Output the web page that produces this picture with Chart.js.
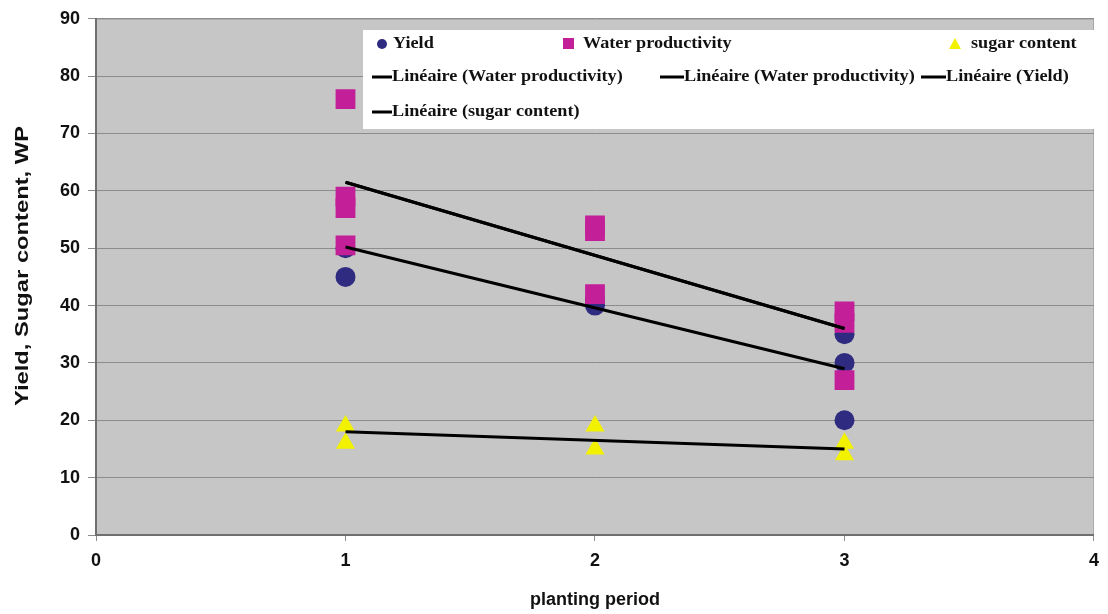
<!DOCTYPE html>
<html>
<head>
<meta charset="utf-8">
<script src="https://cdn.jsdelivr.net/npm/chart.js@4.4.1/dist/chart.umd.min.js"></script>
<style>
    html, body { margin: 0; padding: 0; background: #fff; }
    #wrap { width: 1108px; height: 614px; }
</style>
</head>
<body>
<div id="wrap"><canvas id="chart" width="1108" height="614"></canvas></div>
<script>
// axis ticks
var xTicks = [0, 1, 2, 3, 4];
var yTicks = [0, 10, 20, 30, 40, 50, 60, 70, 80, 90];

// Yield
var yieldX = [1, 1, 2, 2, 3, 3, 3];
var yieldY = [45, 50, 40, 41, 35, 30, 20];
// Water productivity
var wpX = [1, 1, 1, 1, 2, 2, 2, 3, 3, 3];
var wpY = [76, 59, 57, 50.5, 54, 53, 42, 39, 37, 27];
// sugar content
var sugarX = [1, 1, 2, 2, 3, 3];
var sugarY = [19, 16, 19, 15, 16, 14];

// linear trends (period 1 -> period 3)
var trendX = [1, 3];
var trendWP = [61.5, 36];
var trendYield = [50.2, 29];
var trendSugar = [18, 15];

var legendLabels = [
    "Yield", "Water productivity", "sugar content",
    "Linéaire (Water productivity)", "Linéaire (Water productivity)", "Linéaire (Yield)",
    "Linéaire (sugar content)"
];
var yTitle = "Yield, Sugar content, WP";
var xTitle = "planting period";

var cYield = "#2f2b80";
var cWP = "#c21f98";
var cSugar = "#f2f200";

function toPoints(xs, ys) {
    return xs.map(function (x, i) { return { x: x, y: ys[i] }; });
}

function trendSet(label, ys) {
    return {
        type: "line",
        label: label,
        data: toPoints(trendX, ys),
        borderColor: "#000",
        borderWidth: 3,
        pointRadius: 0,
        showLine: true,
        fill: false,
        order: 0
    };
}

// grey plot background + thin frame
var plotBack = {
    id: "plotBack",
    beforeDraw: function (chart) {
        var a = chart.chartArea, ctx = chart.ctx;
        ctx.save();
        ctx.fillStyle = "#c6c6c6";
        ctx.fillRect(a.left, a.top, a.right - a.left, a.bottom - a.top);
        ctx.strokeStyle = "#a9a9a9";
        ctx.lineWidth = 1;
        ctx.strokeRect(a.left + 0.5, a.top + 0.5, a.right - a.left - 1, a.bottom - a.top - 1);
        ctx.restore();
    }
};

// stretched y title like the original
var yTitlePlugin = {
    id: "yTitlePlugin",
    afterDraw: function (chart) {
        var ctx = chart.ctx;
        ctx.save();
        ctx.font = "bold 18px 'Liberation Sans', Arial, sans-serif";
        ctx.fillStyle = "#111";
        ctx.textAlign = "center";
        ctx.textBaseline = "middle";
        var w = ctx.measureText(yTitle).width;
        ctx.translate(23, 266);
        ctx.rotate(-Math.PI / 2);
        ctx.scale(280 / w, 1);
        ctx.fillText(yTitle, 0, 0);
        ctx.restore();
    }
};

// legend box in the style of the original (3 columns)
var boxLegend = {
    id: "boxLegend",
    afterDraw: function (chart) {
        var a = chart.chartArea, ctx = chart.ctx;
        var left = 363, top = 30, right = a.right, bottom = 129;
        ctx.save();
        ctx.fillStyle = "#fff";
        ctx.fillRect(left, top, right - left, bottom - top);

        ctx.font = "bold 17px 'Liberation Serif', 'Times New Roman', serif";
        ctx.textBaseline = "middle";
        function seg(x1, x2, y) {
            ctx.strokeStyle = "#000";
            ctx.lineWidth = 3;
            ctx.beginPath();
            ctx.moveTo(x1, y);
            ctx.lineTo(x2, y);
            ctx.stroke();
        }
        function txt(s, x, y) {
            ctx.save();
            ctx.translate(x, y);
            ctx.scale(1.07, 1);
            ctx.fillStyle = "#111";
            ctx.fillText(s, 0, 0);
            ctx.restore();
        }
        var r1 = 44, r2 = 77, r3 = 112;
        // markers
        ctx.fillStyle = cYield;
        ctx.beginPath();
        ctx.arc(382, r1, 5, 0, Math.PI * 2);
        ctx.fill();
        ctx.fillStyle = cWP;
        ctx.fillRect(563, r1 - 6, 11, 11);
        ctx.fillStyle = cSugar;
        ctx.beginPath();
        ctx.moveTo(955, r1 - 6);
        ctx.lineTo(961, r1 + 5);
        ctx.lineTo(949, r1 + 5);
        ctx.closePath();
        ctx.fill();

        seg(372, 392, r2);
        seg(660, 684, r2);
        seg(921, 946, r2);
        seg(372, 392, r3);

        txt(legendLabels[0], 393, r1);
        txt(legendLabels[1], 583, r1);
        txt(legendLabels[2], 971, r1);
        txt(legendLabels[3], 392, r2);
        txt(legendLabels[4], 684, r2);
        txt(legendLabels[5], 946, r2);
        txt(legendLabels[6], 392, r3);
        ctx.restore();
    }
};

var tickFont = { family: "'Liberation Sans', Arial, sans-serif", size: 18, weight: "bold" };

new Chart(document.getElementById("chart"), {
    type: "scatter",
    data: {
        datasets: [
            trendSet(legendLabels[3], trendWP),
            trendSet(legendLabels[4], trendWP),
            trendSet(legendLabels[5], trendYield),
            trendSet(legendLabels[6], trendSugar),
            {
                label: legendLabels[2],
                data: toPoints(sugarX, sugarY),
                pointStyle: "triangle",
                pointRadius: 11,
                pointHoverRadius: 11,
                backgroundColor: cSugar,
                borderColor: cSugar,
                borderWidth: 0,
                order: 1
            },
            {
                label: legendLabels[1],
                data: toPoints(wpX, wpY),
                pointStyle: "rect",
                pointRadius: 14,
                pointHoverRadius: 14,
                backgroundColor: cWP,
                borderColor: cWP,
                borderWidth: 0,
                order: 2
            },
            {
                label: legendLabels[0],
                data: toPoints(yieldX, yieldY),
                pointStyle: "circle",
                pointRadius: 10,
                pointHoverRadius: 10,
                backgroundColor: cYield,
                borderColor: cYield,
                borderWidth: 0,
                order: 3
            }
        ]
    },
    options: {
        responsive: false,
        animation: false,
        layout: {
            padding: { top: 17, right: 2, left: 0, bottom: 0 }
        },
        plugins: {
            legend: { display: false },
            tooltip: { enabled: false }
        },
        scales: {
            x: {
                type: "linear",
                min: 0,
                max: 4,
                afterBuildTicks: function (scale) {
                    scale.ticks = xTicks.map(function (v) { return { value: v }; });
                },
                afterFit: function (scale) { scale.height = 79; },
                ticks: { color: "#111", font: tickFont, padding: 9, maxRotation: 0 },
                grid: { drawOnChartArea: false, drawTicks: true, tickLength: 6, color: "#8c8c8c" },
                border: { color: "#6f6f6f", width: 2 },
                title: {
                    display: true,
                    text: xTitle,
                    color: "#111",
                    font: tickFont,
                    padding: { top: 0, bottom: 3 }
                }
            },
            y: {
                min: 0,
                max: 90,
                afterBuildTicks: function (scale) {
                    scale.ticks = yTicks.map(function (v) { return { value: v }; });
                },
                afterFit: function (scale) { scale.width = 96; },
                ticks: { color: "#111", font: tickFont, padding: 8 },
                grid: { color: "#8c8c8c", tickLength: 8, lineWidth: 1 },
                border: { color: "#6f6f6f", width: 2 }
            }
        }
    },
    plugins: [plotBack, boxLegend, yTitlePlugin]
});
</script>
</body>
</html>
